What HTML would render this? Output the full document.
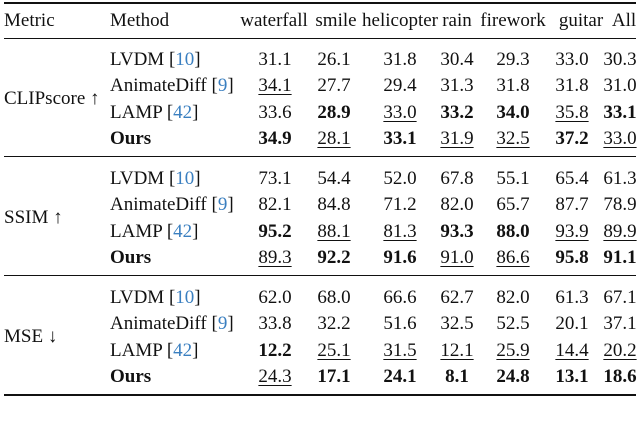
<!DOCTYPE html>
<html><head><meta charset="utf-8"><style>
html,body{margin:0;padding:0;background:#fff;}
#t{position:relative;width:640px;height:431px;overflow:hidden;font-family:"Liberation Serif",serif;font-size:19px;color:#111;}
.c{position:absolute;white-space:nowrap;line-height:20px;}
.rule{position:absolute;left:4px;width:632px;background:#111;}
.ref{color:#3a7fc0;}
.u{text-decoration:underline;text-decoration-thickness:1px;text-underline-offset:3px;}
.b{font-weight:bold;}
</style></head><body>
<div id="t">
<div class="rule" style="top:2px;height:2px"></div>
<div class="rule" style="top:38px;height:1px"></div>
<div class="rule" style="top:156px;height:1px"></div>
<div class="rule" style="top:275px;height:1px"></div>
<div class="rule" style="top:394px;height:2px"></div>
</div>
<script>
const headers=["waterfall","smile","helicopter","rain","firework","guitar","All"];
const metrics=["CLIPscore ↑","SSIM ↑","MSE ↓"];
const methods=[["LVDM ","10"],["AnimateDiff ","9"],["LAMP ","42"],["Ours",""]];
const clipVals=[["31.1","26.1","31.8","30.4","29.3","33.0","30.3"],["34.1","27.7","29.4","31.3","31.8","31.8","31.0"],["33.6","28.9","33.0","33.2","34.0","35.8","33.1"],["34.9","28.1","33.1","31.9","32.5","37.2","33.0"]];
const clipFmt=[["","","","","","",""],["u","","","","","",""],["","b","u","b","b","u","b"],["b","u","b","u","u","b","u"]];
const ssimVals=[["73.1","54.4","52.0","67.8","55.1","65.4","61.3"],["82.1","84.8","71.2","82.0","65.7","87.7","78.9"],["95.2","88.1","81.3","93.3","88.0","93.9","89.9"],["89.3","92.2","91.6","91.0","86.6","95.8","91.1"]];
const ssimFmt=[["","","","","","",""],["","","","","","",""],["b","u","u","b","b","u","u"],["u","b","b","u","u","b","b"]];
const mseVals=[["62.0","68.0","66.6","62.7","82.0","61.3","67.1"],["33.8","32.2","51.6","32.5","52.5","20.1","37.1"],["12.2","25.1","31.5","12.1","25.9","14.4","20.2"],["24.3","17.1","24.1","8.1","24.8","13.1","18.6"]];
const mseFmt=[["","","","","","",""],["","","","","","",""],["b","u","u","u","u","u","u"],["u","b","b","b","b","b","b"]];
const T=document.getElementById('t');
const hdrCx=[274,336,400,457,513,581,624];
const numCx=[275,334,400,457,513,572,620];
function put(txt,x,cy,center,cls){
  const d=document.createElement('div');
  d.className='c'+(cls?' '+cls:'');
  d.textContent=txt;
  d.style.top=(cy-10)+'px';
  if(center){d.style.left=x+'px';d.style.transform='translateX(-50%)';}else d.style.left=x+'px';
  T.appendChild(d);return d;
}
let e=put("Metric",4,21,false);


e=put("Method",110,21,false);


headers.forEach((h,i)=>{const d=put(h,hdrCx[i],21,true);

});
const secs=[[clipVals,clipFmt],[ssimVals,ssimFmt],[mseVals,mseFmt]];
const secTop=[60,179,298];
secs.forEach((s,si)=>{
  const y0=secTop[si];
  const m=put(metrics[si],4,y0+39,false);
  
  
  methods.forEach((mt,ri)=>{
    const cy=y0+ri*26.3;
    const d=put("",110,cy,false,ri==3?'b':'');
    d.appendChild(document.createTextNode(mt[0]));
    if(mt[1]){d.appendChild(document.createTextNode('['));const r=document.createElement('span');r.className='ref';r.textContent=mt[1];d.appendChild(r);d.appendChild(document.createTextNode(']'));}
    
    
    s[0][ri].forEach((v,ci)=>{
      const f=s[1][ri][ci];
      const c=put(v,numCx[ci],cy,true,f);
      
      
    });
  });
});
</script>
</body></html>
